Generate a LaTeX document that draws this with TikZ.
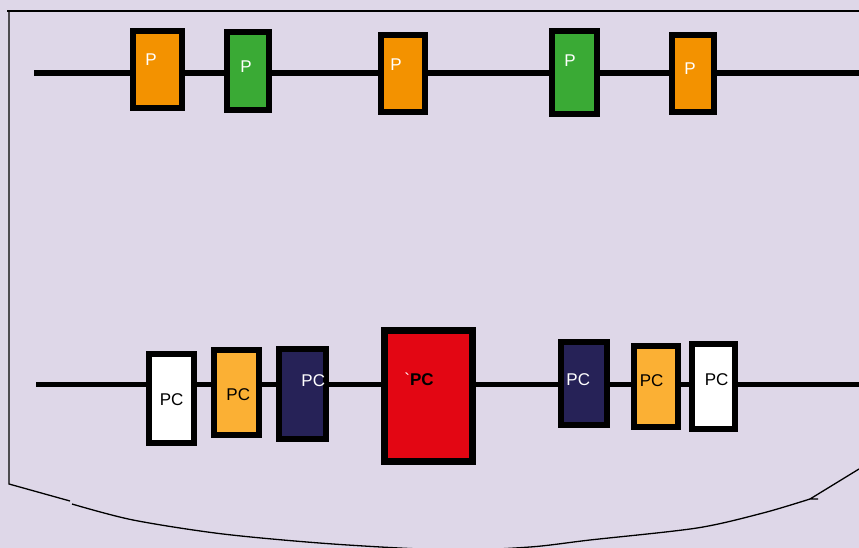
\documentclass[tikz,border=0pt]{standalone}
\usepackage{fontspec}
\setmainfont{Liberation Sans}
\usetikzlibrary{positioning,calc}
\definecolor{bgviolet}{HTML}{DED7E8}
\definecolor{porange}{HTML}{F39200}
\definecolor{pgreen}{HTML}{3AAA35}
\definecolor{pcyellow}{HTML}{FBB034}
\definecolor{pcnavy}{HTML}{262257}
\definecolor{pcred}{HTML}{E30613}
\begin{document}
\begin{tikzpicture}[x=1pt,y=-1pt,
  box/.style={draw=black,line width=6pt,inner sep=0pt},
  wire/.style={line width=5.5pt,black},
  txt/.style={inner sep=0pt,font=\fontsize{17}{20}\selectfont},
  frame/.style={line width=1.3pt,black}]
\fill[bgviolet] (0,0) rectangle (859,548);
\useasboundingbox (0,0) rectangle (859,548);
% Frame
\draw[frame] (7,11) -- (859,11);
\draw[frame] (9,11) -- (9,484) -- (70,501);
\draw[frame] plot[smooth] coordinates {(72,504) (133,520) (223,534) (333,544) (450,550) (530,547) (590,540) (697,528) (763,513) (810,499)};
\draw[frame] (810,499) -- (818,499) (810,499) -- (859,469);
% Top row
\coordinate (top_l) at (34,73);
\coordinate (top_r) at (859,73);
\node[box,fill=porange,minimum width=49pt,minimum height=77pt](top_p1) at (157.3,70){};
\node[box,fill=pgreen,minimum width=42pt,minimum height=78pt](top_p2) at (247.5,71){};
\node[box,fill=porange,minimum width=44pt,minimum height=77pt](top_p3) at (402.5,74){};
\node[box,fill=pgreen,minimum width=45pt,minimum height=83pt](top_p4) at (574.7,72.8){};
\node[box,fill=porange,minimum width=42pt,minimum height=77pt](top_p5) at (693,74){};
\draw[wire] (top_l) -- (top_p1.west |- top_l);
\foreach \a/\b in {top_p1/top_p2,top_p2/top_p3,top_p3/top_p4,top_p4/top_p5}
  \draw[wire] (\a.east |- top_l) -- (\b.west |- top_l);
\draw[wire] (top_p5.east |- top_l) -- (top_r);
\node[txt,white](top_t1) at (151,60){P};
\node[txt,white](top_t2) at (246,66.7){P};
\node[txt,white](top_t3) at (396,64.3){P};
\node[txt,white](top_t4) at (570,60.7){P};
\node[txt,white](top_t5) at (690,69){P};
% Bottom row
\coordinate (bot_l) at (36,384.5);
\coordinate (bot_r) at (859,384.5);
\node[box,fill=white,minimum width=45pt,minimum height=89pt](bot_pc1) at (171.3,398.3){};
\node[box,fill=pcyellow,minimum width=45pt,minimum height=85pt](bot_pc2) at (236.3,392.2){};
\node[box,fill=pcnavy,minimum width=47pt,minimum height=90pt](bot_pc3) at (302.3,393.8){};
\node[box,fill=pcred,line width=7pt,minimum width=88pt,minimum height=131pt](bot_pc4) at (428,396){};
\node[box,fill=pcnavy,minimum width=46pt,minimum height=83pt](bot_pc5) at (583.8,383.3){};
\node[box,fill=pcyellow,minimum width=44pt,minimum height=81pt](bot_pc6) at (655.8,386.3){};
\node[box,fill=white,minimum width=43pt,minimum height=85pt](bot_pc7) at (713.3,386.2){};
\draw[wire] (bot_l) -- (bot_pc1.west |- bot_l);
\foreach \a/\b in {bot_pc1/bot_pc2,bot_pc2/bot_pc3,bot_pc3/bot_pc4,bot_pc4/bot_pc5,bot_pc5/bot_pc6,bot_pc6/bot_pc7}
  \draw[wire] (\a.east |- bot_l) -- (\b.west |- bot_l);
\draw[wire] (bot_pc7.east |- bot_l) -- (bot_r);
\node[txt](bot_t1) at (171.7,400){PC};
\node[txt](bot_t2) at (238.3,394.3){PC};
\node[txt,white](bot_t3) at (313.3,380.7){PC};
\node[txt](bot_t4) at (419,379){\textcolor{white}{\textasciigrave}\textbf{PC}};
\node[txt,white](bot_t5) at (578.3,379.3){PC};
\node[txt](bot_t6) at (651.7,380.7){PC};
\node[txt](bot_t7) at (716.7,379.3){PC};
\end{tikzpicture}
\end{document}
